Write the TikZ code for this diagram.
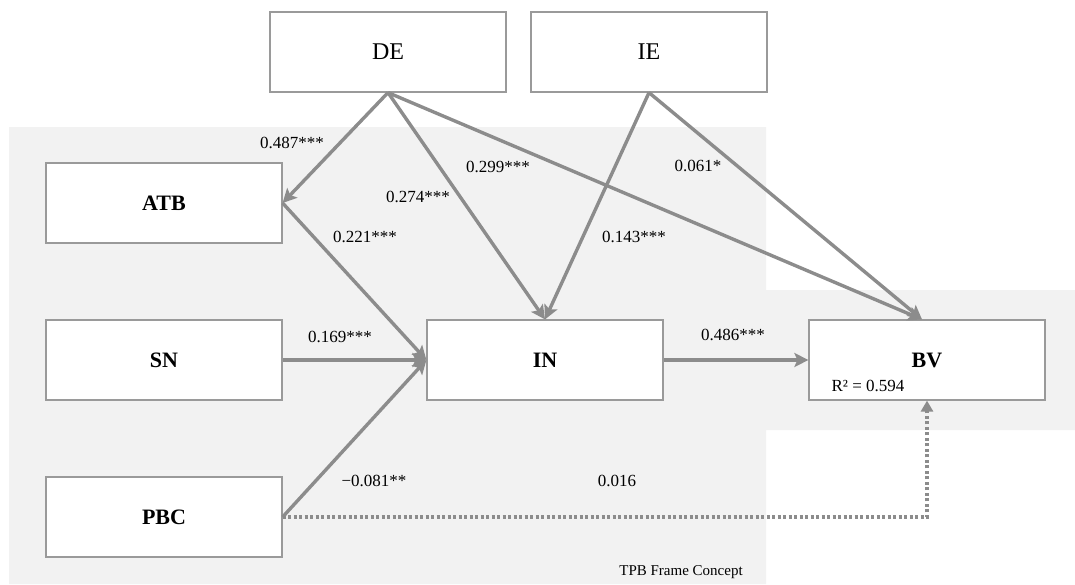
\documentclass[tikz,border=0pt]{standalone}
\usepackage{fontspec}
\setmainfont{Liberation Serif}
\usetikzlibrary{arrows.meta}
\definecolor{bggray}{HTML}{F2F2F2}
\definecolor{linegray}{HTML}{8C8C8C}
\definecolor{boxgray}{HTML}{9A9A9A}
\tikzset{
  box/.style={draw=boxgray, line width=1.2pt, fill=white, minimum width=236pt, minimum height=80pt, inner sep=0pt},
  boxlab/.style={font=\fontsize{22}{24}\selectfont},
  toplab/.style={font=\fontsize{24}{26}\selectfont},
  path/.style={draw=linegray, line width=3.4pt, -{Stealth[length=14pt,width=14pt,inset=3pt]}},
  dotpath/.style={draw=linegray, line width=3.4pt, dash pattern=on 3pt off 2.5pt, -{Triangle[length=11pt,width=12pt]}},
  coef/.style={font=\fontsize{17}{19}\selectfont, inner sep=0pt},
}
\begin{document}
\begin{tikzpicture}[x=1pt,y=-1pt]
\useasboundingbox (0,0) rectangle (1075,584);
% background
\fill[bggray] (9,127) -- (766,127) -- (766,290) -- (1075,290) -- (1075,430) -- (766,430) -- (766,584) -- (9,584) -- cycle;
% boxes
\node[box, toplab] (DE) at (388,52) {DE};
\node[box, toplab] (IE) at (649,52) {IE};
\node[box, boxlab] (ATB) at (164,203) {\textbf{ATB}};
\node[box, boxlab] (SN) at (164,360) {\textbf{SN}};
\node[box, boxlab] (PBC) at (164,517) {\textbf{PBC}};
\node[box, boxlab] (IN) at (545,360) {\textbf{IN}};
\node[box, boxlab] (BV) at (927,360) {\textbf{BV}};
\node[coef] (R2) at (868,386) {R² = 0.594};
% connectors
\coordinate (BVtop) at ([xshift=-5pt]BV.north);
\draw[path] (DE.south) -- (ATB.east);
\draw[path] (DE.south) -- (IN.north);
\draw[path] (DE.south) -- (BVtop);
\draw[path] (IE.south) -- (IN.north);
\draw[path] (IE.south) -- (BVtop);
\draw[path] (ATB.east) -- (IN.west);
\draw[path] (SN.east) -- (IN.west);
\draw[path] (PBC.east) -- (IN.west);
\draw[path] (IN.east) -- (BV.west);
\draw[dotpath] (PBC.east) -| (BV.south);
% coefficients
\node[coef] (c1) at (292,143) {0.487***};
\node[coef] (c2) at (418,197) {0.274***};
\node[coef] (c3) at (498,167) {0.299***};
\node[coef] (c4) at (698,166) {0.061*};
\node[coef] (c5) at (634,237) {0.143***};
\node[coef] (c6) at (365,237) {0.221***};
\node[coef] (c7) at (340,337) {0.169***};
\node[coef] (c8) at (733,335) {0.486***};
\node[coef] (c9) at (374,481) {−0.081**};
\node[coef] (c10) at (617,481) {0.016};
\node[coef, font=\fontsize{15}{17}\selectfont] (tpb) at (681,572) {TPB Frame Concept};
\end{tikzpicture}
\end{document}
